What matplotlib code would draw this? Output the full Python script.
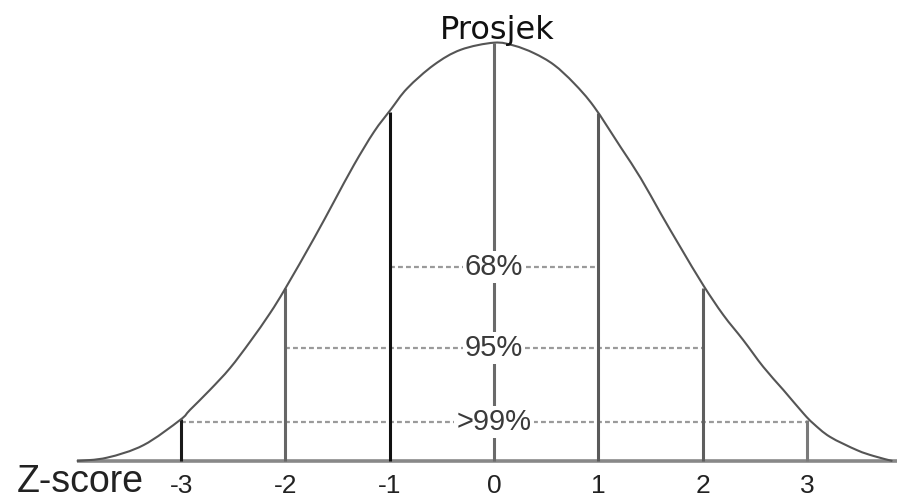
import matplotlib
matplotlib.use("Agg")
import matplotlib.pyplot as plt
from matplotlib.path import Path
from matplotlib.patches import PathPatch

# curve (z, height relative to the peak)
z_curve = [-4.0, -3.71, -3.36, -3.01, -2.915, -2.723, -2.531, -2.339, -2.148, -1.999, -1.726, -1.534,
           -1.342, -1.15, -0.99, -0.831, -0.575, -0.319, 0.0, 0.192, 0.383, 0.575, 0.767, 0.959, 1.215,
           1.407, 1.598, 1.79, 2.007, 2.199, 2.39, 2.582, 2.774, 2.966, 3.06, 3.22, 3.48, 3.64, 3.82]
h_curve = [0.0, 0.008, 0.038, 0.098, 0.122, 0.170, 0.222, 0.285, 0.353, 0.413, 0.532, 0.62,
           0.708, 0.787, 0.84, 0.891, 0.947, 0.983, 1.0, 0.993, 0.975, 0.947, 0.903, 0.847, 0.75,
           0.676, 0.592, 0.51, 0.42, 0.349, 0.289, 0.225, 0.170, 0.114, 0.090, 0.058, 0.026, 0.012, 0.0]

z_marks = [-3, -2, -1, 0, 1, 2, 3]
mark_tops = [0.10, 0.413, 0.835, 1.0, 0.832, 0.413, 0.098]
mark_labels = ["-3", "-2", "-1", "0", "1", "2", "3"]
mark_colors = ["#1a1a1a", "#666666", "#111111", "#6a6a6a", "#5a5a5a", "#5e5e5e", "#7a7a7a"]

band_labels = ["68%", "95%", ">99%"]
band_halfwidth = [1, 2, 3]
band_levels = [0.464, 0.270, 0.093]


def smooth_path(xs, ys):
    # pass a smooth bezier through the read points (catmull-rom handles)
    pts = list(zip(xs, ys))
    verts = [pts[0]]
    codes = [Path.MOVETO]
    n = len(pts)
    for i in range(n - 1):
        p0 = pts[i - 1] if i > 0 else pts[i]
        p1 = pts[i]
        p2 = pts[i + 1]
        p3 = pts[i + 2] if i + 2 < n else pts[i + 1]
        c1 = (p1[0] + (p2[0] - p0[0]) / 6, p1[1] + (p2[1] - p0[1]) / 6)
        c2 = (p2[0] - (p3[0] - p1[0]) / 6, p2[1] - (p3[1] - p1[1]) / 6)
        verts += [c1, c2, p2]
        codes += [Path.CURVE4] * 3
    return Path(verts, codes)


fig = plt.figure(figsize=(8.97, 5.0), dpi=100)
ax = fig.add_axes([0, 0, 1, 1])
ax.set_xlim(-4.736, 3.864)
ax.set_ylim(-0.0932, 1.102)
ax.axis("off")

# baseline
ax.plot([-4.0, 3.864], [0, 0], color="#888888", lw=2.6, solid_capstyle="butt", zorder=2)

# bell curve
ax.add_patch(PathPatch(smooth_path(z_curve, h_curve), facecolor="none", edgecolor="#555555",
                       lw=1.5, zorder=3))

# vertical lines at each z
for z, top, c in zip(z_marks, mark_tops, mark_colors):
    ax.plot([z, z], [0, top], color=c, lw=2.2, solid_capstyle="butt", zorder=2)

# dotted bands with labels
for lab, hw, lev in zip(band_labels, band_halfwidth, band_levels):
    ax.plot([-hw, hw], [lev, lev], color="#9a9a9a", lw=1.6, linestyle=(0, (2.2, 1.4)), zorder=1)
    ax.text(0, lev, lab, ha="center", va="center", fontsize=21, color="#3a3a3a",
            family="Liberation Sans", zorder=5,
            bbox=dict(facecolor="white", edgecolor="none", pad=1.5))

ax.text(0.03, 1.03, "Prosjek", ha="center", va="center", fontsize=23, color="#111111",
        family="DejaVu Sans")

for z, lab in zip(z_marks, mark_labels):
    ax.text(z, -0.0755, lab, ha="center", va="baseline", fontsize=19, color="#222222",
            family="Liberation Sans")

ax.text(-3.97, -0.073, "Z-score", ha="center", va="baseline", fontsize=27, color="#222222",
        family="Liberation Sans")

fig.savefig("out.png", dpi=100)
